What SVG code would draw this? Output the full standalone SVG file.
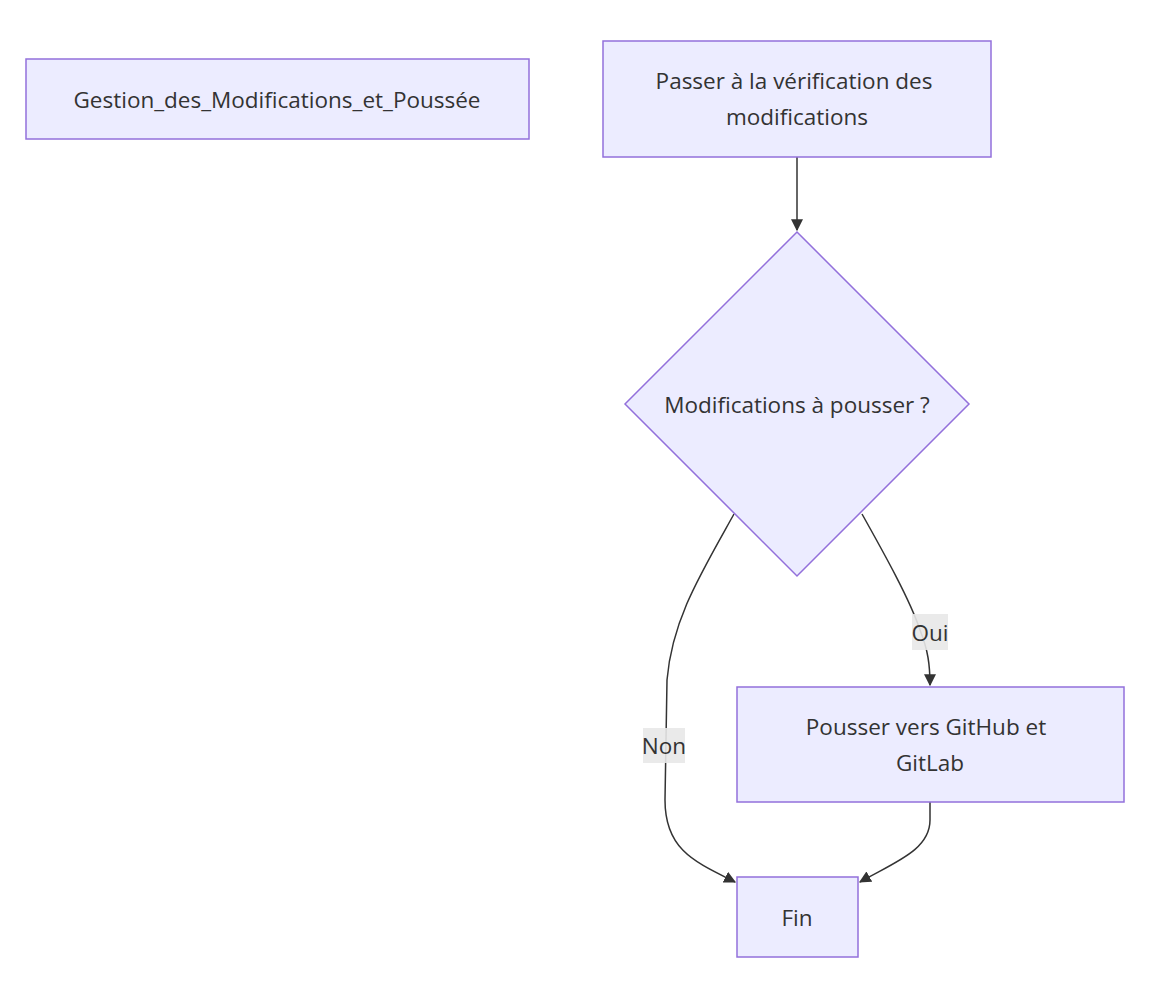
<svg xmlns="http://www.w3.org/2000/svg" width="1176" height="998" viewBox="0 0 1176 998">
<style>
.node{fill:#ECECFF;stroke:#9370DB;stroke-width:1.5}
.lbl{font-family:"Open Sans","DejaVu Sans",sans-serif;font-size:22.5px;fill:#333333;text-anchor:middle;dominant-baseline:central}
.edge{fill:none;stroke:#333333;stroke-width:1.5}
.ebg{fill:#E8E8E8;opacity:0.9}
</style>
<defs>
<marker id="arr" viewBox="0 0 10 10" refX="9" refY="5" markerUnits="userSpaceOnUse" markerWidth="12" markerHeight="12" orient="auto">
<path d="M0,0 L10,5 L0,10 z" fill="#333333"/>
</marker>
</defs>
<rect width="1176" height="998" fill="#ffffff"/>
<g id="connectors">
<path class="edge" d="M797,157 L797,230" marker-end="url(#arr)"/>
<path class="edge" d="M734,514 C700,575 672,620 667,680 L665,800 C665,850 695,862 735,882" marker-end="url(#arr)"/>
<path class="edge" d="M862,514 C885,555 910,600 920,630 C928,650 930,665 930,685" marker-end="url(#arr)"/>
<path class="edge" d="M930,802 L930,820 C930,850 895,862 860,882" marker-end="url(#arr)"/>
<g id="label-non"><rect class="ebg" x="643" y="728" width="42" height="35"/><text class="lbl" x="664" y="745">Non</text></g>
<g id="label-oui"><rect class="ebg" x="912" y="614" width="36" height="36"/><text class="lbl" x="930" y="632">Oui</text></g>
</g>
<g id="title"><rect class="node" x="26" y="59" width="503" height="80"/><text class="lbl" x="277" y="99">Gestion_des_Modifications_et_Poussée</text></g>
<g id="passer"><rect class="node" x="603" y="41" width="388" height="116"/><text class="lbl" x="794" y="80">Passer à la vérification des</text><text class="lbl" x="797" y="116">modifications</text></g>
<g id="decision"><polygon class="node" points="797,232 969,404 797,576 625,404"/><text class="lbl" x="797" y="404">Modifications à pousser ?</text></g>
<g id="pousser"><rect class="node" x="737" y="687" width="387" height="115"/><text class="lbl" x="926" y="726">Pousser vers GitHub et</text><text class="lbl" x="930" y="762">GitLab</text></g>
<g id="fin"><rect class="node" x="737" y="877" width="121" height="80"/><text class="lbl" x="797" y="917">Fin</text></g>
</svg>
